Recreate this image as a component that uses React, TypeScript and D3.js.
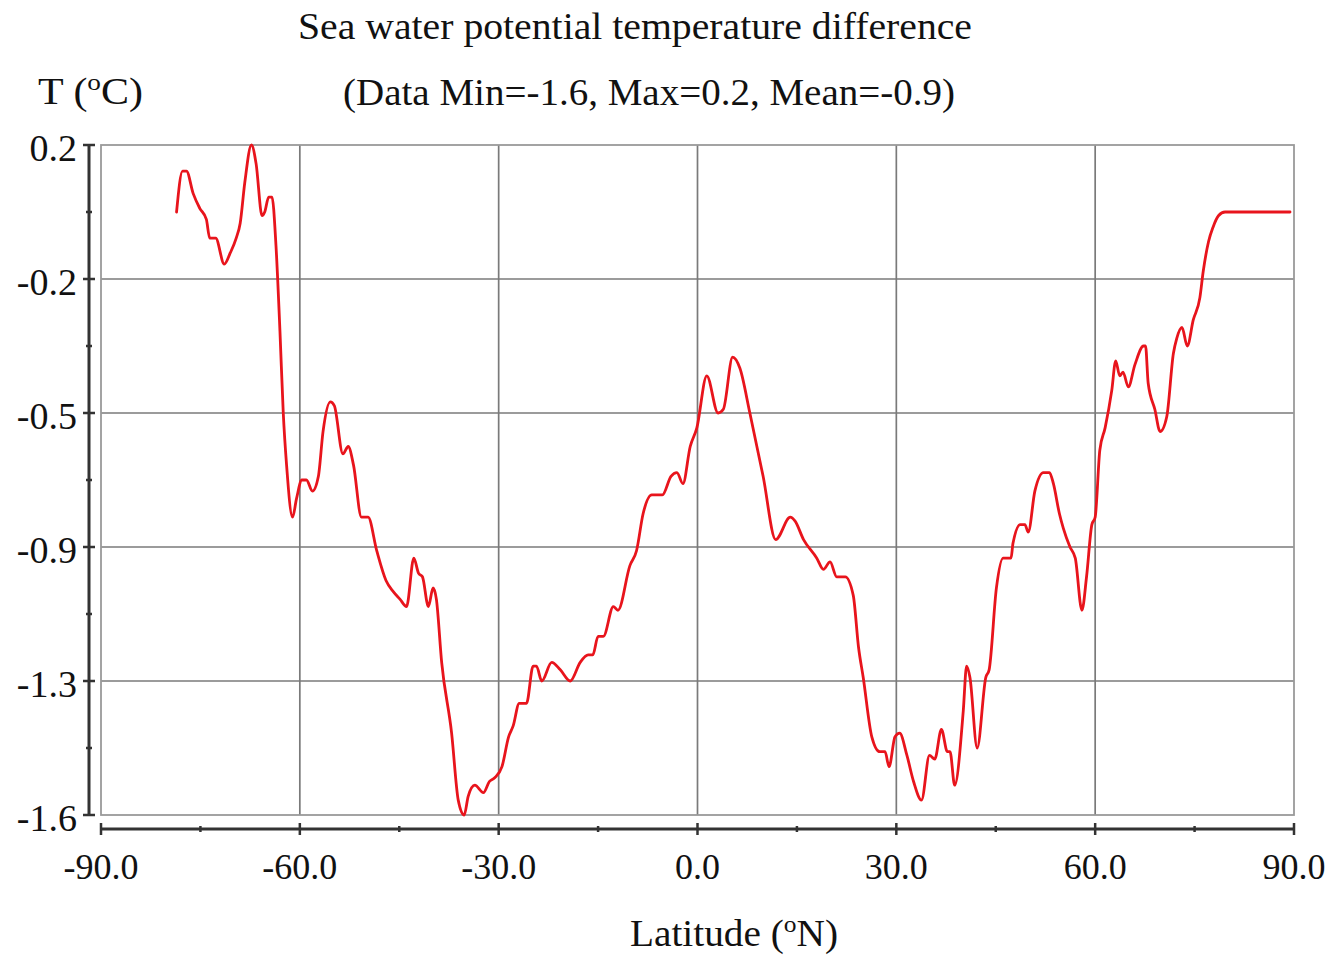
import React from "react";
import * as d3 from "d3";

// latitude (°N) and temperature difference (°C)
const lat = [
  -78.6, -77.7, -77.1, -76.1, -75.1, -74.1, -73.6, -72.7, -71.4, -70.5, -69.6, -69.0, -68.3, -67.3,
  -66.6, -65.7, -65.3, -64.7, -64.2, -63.6, -63.0, -62.5, -62.0, -61.1, -60.5, -59.7, -59.0, -58.1,
  -57.2, -56.5, -55.4, -54.8, -53.5, -52.7, -51.9, -50.7, -49.7, -48.4, -47.0, -45.9, -44.9, -43.9,
  -42.8, -42.1, -41.5, -40.6, -39.9, -39.4, -38.6, -37.1, -36.1, -35.2, -34.6, -33.6, -32.3, -31.4,
  -30.6, -29.5, -28.5, -27.8, -26.9, -25.8, -24.8, -24.3, -23.5, -22.0, -20.7, -19.2, -17.7, -16.5,
  -15.8, -15.0, -14.2, -12.7, -12.0, -10.2, -9.2, -8.2, -6.9, -5.3, -4.0, -3.1, -2.2, -1.1, -0.1,
  1.4, 3.1, 3.9, 5.3, 6.4, 7.9, 9.9, 11.8, 14.0, 14.7, 16.0, 18.0, 19.0, 20.0, 21.0, 22.3, 23.5,
  24.3, 25.0, 26.3, 27.5, 28.3, 28.9, 29.8, 30.5, 31.6, 32.6, 33.8, 35.0, 35.8, 36.8, 37.7, 38.1,
  38.8, 40.1, 40.6, 41.1, 42.2, 43.5, 44.0, 45.1, 46.1, 47.3, 47.6, 48.7, 49.4, 49.9, 50.9, 52.2,
  53.1, 53.7, 54.6, 55.2, 56.2, 57.0, 58.0, 58.7, 59.5, 60.0, 60.7, 61.5, 62.5, 63.1, 63.7, 64.2,
  65.0, 66.0, 67.3, 67.6, 68.0, 69.0, 69.8, 70.8, 71.8, 72.3, 73.1, 73.9, 74.8, 75.8, 76.3, 77.1,
  77.8, 78.6, 79.6, 81.4, 89.4,
];
const temp = [
  0.02, 0.13, 0.13, 0.07, 0.03, 0.0, -0.05, -0.05, -0.12, -0.09, -0.05, -0.01, 0.1, 0.2,
  0.15, 0.01, 0.02, 0.06, 0.06, -0.07, -0.3, -0.52, -0.66, -0.8, -0.75, -0.7, -0.7, -0.73,
  -0.69, -0.57, -0.49, -0.5, -0.63, -0.61, -0.66, -0.8, -0.8, -0.89, -0.97, -1.0, -1.02, -1.04,
  -0.91, -0.95, -0.96, -1.04, -0.99, -1.02, -1.19, -1.38, -1.56, -1.6, -1.55, -1.52, -1.54, -1.51,
  -1.5, -1.47, -1.39, -1.36, -1.3, -1.3, -1.2, -1.2, -1.24, -1.19, -1.21, -1.24, -1.19, -1.17,
  -1.17, -1.12, -1.12, -1.04, -1.05, -0.93, -0.89, -0.79, -0.74, -0.74, -0.69, -0.68, -0.71, -0.61, -0.56,
  -0.42, -0.52, -0.51, -0.37, -0.4, -0.52, -0.69, -0.86, -0.8, -0.81, -0.86, -0.91, -0.94, -0.92, -0.96, -0.96, -1.01,
  -1.15, -1.23, -1.39, -1.43, -1.43, -1.47, -1.39, -1.38, -1.44, -1.51, -1.56, -1.44, -1.45, -1.37, -1.43, -1.43,
  -1.52, -1.32, -1.2, -1.23, -1.42, -1.23, -1.21, -0.99, -0.91, -0.91, -0.87, -0.82, -0.82, -0.84, -0.73, -0.68,
  -0.68, -0.71, -0.79, -0.83, -0.88, -0.91, -1.05, -0.96, -0.82, -0.8, -0.62, -0.56, -0.46, -0.38, -0.42, -0.41,
  -0.45, -0.39, -0.34, -0.34, -0.44, -0.51, -0.57, -0.53, -0.36, -0.32, -0.29, -0.34, -0.27, -0.21, -0.14, -0.06,
  -0.02, 0.01, 0.02, 0.02, 0.02,
];

const xTicks = [-90, -60, -30, 0, 30, 60, 90];
const xMinor = [-75, -45, -15, 15, 45, 75];
const yTicks = [0.2, -0.16, -0.52, -0.88, -1.24, -1.6];
const yLabels = ["0.2", "-0.2", "-0.5", "-0.9", "-1.3", "-1.6"];

const W = 1326;
const H = 957;
const font = "'Liberation Serif', 'Times New Roman', serif";

export default function App() {
  const x = d3.scaleLinear().domain([-90, 90]).range([101, 1294]);
  const y = d3.scaleLinear().domain([-1.6, 0.2]).range([815, 145]);
  const [x0, x1] = x.range();
  const [yb, yt] = y.range();

  const line = d3
    .line<number>()
    .x((_, i) => x(lat[i]))
    .y((d) => y(d))
    .curve(d3.curveMonotoneX);

  const yMinor = yTicks.slice(1).map((v, i) => (v + yTicks[i]) / 2);

  return (
    <svg
      width={W}
      height={H}
      style={{ position: "absolute", left: 0, top: 0, background: "#fff", fontFamily: font }}
    >
      {/* grid */}
      {xTicks.slice(1, -1).map((t) => (
        <line key={"gx" + t} x1={x(t)} x2={x(t)} y1={yt} y2={yb} stroke="#7a7a7a" strokeWidth={1.7} />
      ))}
      {yTicks.slice(1, -1).map((t) => (
        <line key={"gy" + t} x1={x0} x2={x1} y1={y(t)} y2={y(t)} stroke="#7a7a7a" strokeWidth={1.7} />
      ))}
      <rect x={x0} y={yt} width={x1 - x0} height={yb - yt} fill="none" stroke="#9a9a9a" strokeWidth={1.8} />

      {/* data */}
      <path d={line(temp) ?? ""} fill="none" stroke="#e8141c" strokeWidth={2.8} strokeLinejoin="round" strokeLinecap="round" />

      {/* y axis */}
      <line x1={89} x2={89} y1={yt} y2={yb} stroke="#333" strokeWidth={3} />
      {yTicks.map((t, i) => (
        <g key={"yt" + i}>
          <line x1={83} x2={95} y1={y(t)} y2={y(t)} stroke="#333" strokeWidth={2.5} />
          <text x={77} y={y(t) + 16} textAnchor="end" fontSize={38} fill="#111">
            {yLabels[i]}
          </text>
        </g>
      ))}
      {yMinor.map((t, i) => (
        <line key={"ym" + i} x1={86} x2={92} y1={y(t)} y2={y(t)} stroke="#333" strokeWidth={2.5} />
      ))}

      {/* x axis */}
      <line x1={x0} x2={x1} y1={829} y2={829} stroke="#333" strokeWidth={3} />
      {xTicks.map((t) => (
        <g key={"xt" + t}>
          <line x1={x(t)} x2={x(t)} y1={823} y2={835} stroke="#333" strokeWidth={2.5} />
          <text x={x(t)} y={879} textAnchor="middle" fontSize={36} fill="#111">
            {t.toFixed(1)}
          </text>
        </g>
      ))}
      {xMinor.map((t) => (
        <line key={"xm" + t} x1={x(t)} x2={x(t)} y1={826} y2={832} stroke="#333" strokeWidth={2.5} />
      ))}

      {/* titles */}
      <text x={298} y={39} fontSize={38} fill="#111" textLength={674} lengthAdjust="spacingAndGlyphs">
        Sea water potential temperature difference
      </text>
      <text x={343} y={105} fontSize={38} fill="#111" textLength={612} lengthAdjust="spacingAndGlyphs">
        (Data Min=-1.6, Max=0.2, Mean=-0.9)
      </text>
      <text x={38} y={104} fontSize={37} fill="#111" textLength={105} lengthAdjust="spacingAndGlyphs">
        T (<tspan fontSize={24} dy={-14}>o</tspan>
        <tspan dy={14}>C)</tspan>
      </text>
      <text x={630} y={946} fontSize={37} fill="#111" textLength={208} lengthAdjust="spacingAndGlyphs">
        Latitude (<tspan fontSize={24} dy={-14}>o</tspan>
        <tspan dy={14}>N)</tspan>
      </text>
    </svg>
  );
}
